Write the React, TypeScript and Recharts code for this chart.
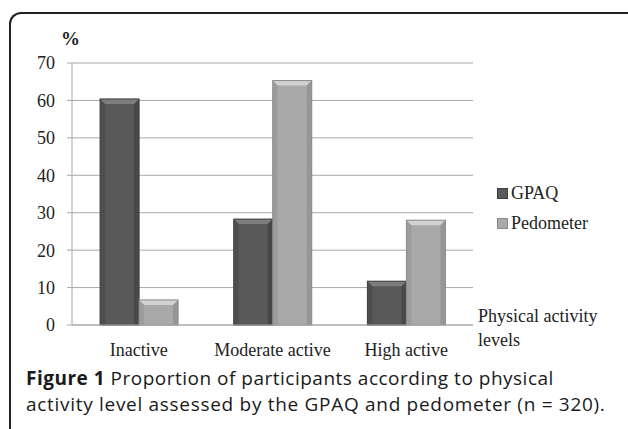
import { Bar, BarChart, CartesianGrid, Legend, XAxis, YAxis } from 'recharts';

const categories = ['Inactive', 'Moderate active', 'High active'];
const gpaq = [60.4, 28.3, 11.7];
const pedometer = [6.7, 65.3, 28.0];
const yTicks = [0, 10, 20, 30, 40, 50, 60, 70];

const data = categories.map((level, i) => ({
  level,
  GPAQ: gpaq[i],
  Pedometer: pedometer[i],
}));

const SERIF = '"Liberation Serif", "Times New Roman", serif';
const SANS = '"Open Sans", "Noto Sans", sans-serif';

const STYLES: Record<string, { main: string; light: string; dark: string }> = {
  GPAQ: { main: '#595959', light: '#7d7d7d', dark: '#3e3e3e' },
  Pedometer: { main: '#a9a9a9', light: '#d2d2d2', dark: '#8a8a8a' },
};

// bevelled bar like the old Excel 2007 look
const bevelBar = (key: string) => (props: any) => {
  const { x, y, width, height } = props;
  if (!height || height <= 0) return <g />;
  const c = STYLES[key];
  const b = Math.min(5, height / 3);
  return (
    <g>
      <rect x={x} y={y} width={width} height={height} fill={c.main} />
      <polygon
        points={`${x},${y} ${x + width},${y} ${x + width - b},${y + b} ${x + b},${y + b}`}
        fill={c.light}
      />
      <polygon
        points={`${x},${y} ${x + b},${y + b} ${x + b},${y + height} ${x},${y + height}`}
        fill={c.dark}
        opacity={0.4}
      />
      <polygon
        points={`${x + width},${y} ${x + width - b},${y + b} ${x + width - b},${y + height} ${x + width},${y + height}`}
        fill={c.dark}
        opacity={0.6}
      />
      <rect x={x} y={y} width={width} height={height} fill="none" stroke={c.dark} strokeWidth={1} />
    </g>
  );
};

const LegendBox = ({ payload }: any) => (
  <div style={{ fontFamily: SERIF, fontSize: 18, color: '#222' }}>
    {(payload || []).map((p: any) => (
      <div key={p.value} style={{ display: 'flex', alignItems: 'center', height: 30 }}>
        <span
          style={{
            display: 'inline-block',
            width: 9,
            height: 9,
            background: STYLES[p.value].main,
            border: `1px solid ${STYLES[p.value].dark}`,
            marginRight: 3,
          }}
        />
        {p.value}
      </div>
    ))}
  </div>
);

const captionLine = {
  position: 'absolute' as const,
  left: 26,
  fontFamily: SANS,
  fontSize: 19,
  lineHeight: '20px',
  color: '#1a1a1a',
  whiteSpace: 'nowrap' as const,
};

export default function App() {
  return (
    <div
      style={{
        position: 'absolute',
        left: 0,
        top: 0,
        width: 628,
        height: 429,
        background: '#fff',
        overflow: 'hidden',
      }}
    >
      <div
        style={{
          position: 'absolute',
          left: 9,
          top: 12,
          width: 700,
          height: 500,
          borderTop: '2px solid #222',
          borderLeft: '2px solid #222',
          borderTopLeftRadius: 12,
        }}
      />
      <div
        style={{
          position: 'absolute',
          left: 61,
          top: 28,
          fontFamily: SERIF,
          fontSize: 19,
          fontWeight: 'bold',
          color: '#222',
        }}
      >
        %
      </div>
      <div style={{ position: 'absolute', left: 0, top: 0 }}>
        <BarChart
          width={628}
          height={360}
          data={data}
          margin={{ top: 63, right: 155, bottom: 5, left: 0 }}
          barCategoryGap="21%"
          barGap={0}
        >
          <CartesianGrid vertical={false} stroke="#a8a8a8" />
          <XAxis
            dataKey="level"
            height={30}
            interval={0}
            tickLine={false}
            tickSize={0}
            tickMargin={18}
            axisLine={{ stroke: '#a8a8a8' }}
            tick={{ fontFamily: SERIF, fontSize: 18, fill: '#222' }}
          />
          <YAxis
            width={72}
            domain={[0, 70]}
            ticks={yTicks}
            interval={0}
            tickSize={5}
            tickMargin={12}
            tickLine={{ stroke: '#a8a8a8' }}
            axisLine={{ stroke: '#a8a8a8' }}
            tick={{ fontFamily: SERIF, fontSize: 18, fill: '#222' }}
          />
          <Legend
            layout="vertical"
            align="center"
            verticalAlign="middle"
            content={<LegendBox />}
            wrapperStyle={{ left: 497, top: 178, width: 120 }}
          />
          <Bar dataKey="GPAQ" fill={STYLES.GPAQ.main} shape={bevelBar('GPAQ')} isAnimationActive={false} />
          <Bar dataKey="Pedometer" fill={STYLES.Pedometer.main} shape={bevelBar('Pedometer')} isAnimationActive={false} />
        </BarChart>
      </div>
      <div
        style={{
          position: 'absolute',
          left: 478,
          top: 304,
          fontFamily: SERIF,
          fontSize: 18,
          lineHeight: '24px',
          color: '#222',
        }}
      >
        Physical activity
        <br />
        levels
      </div>
      <div style={{ ...captionLine, top: 368, letterSpacing: 0.5 }}>
        <b>Figure 1</b> Proportion of participants according to physical
      </div>
      <div style={{ ...captionLine, top: 394, letterSpacing: 0.7 }}>
        activity level assessed by the GPAQ and pedometer (n = 320).
      </div>
    </div>
  );
}
